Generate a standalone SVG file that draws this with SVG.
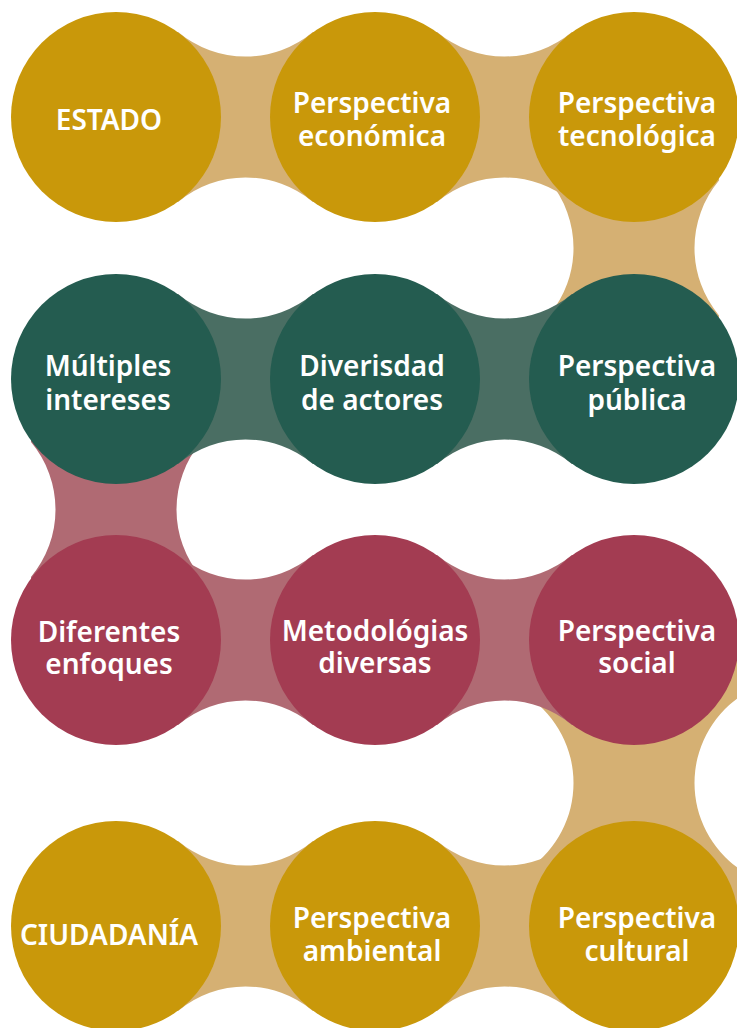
<svg xmlns="http://www.w3.org/2000/svg" width="737" height="1028" viewBox="0 0 737 1028">
<style>
.gold{fill:#C9980A}
.green{fill:#245C50}
.red{fill:#A33C52}
.ctan{fill:#D5B073}
.cgreen{fill:#4A6E63}
.cred{fill:#B06A73}
text{font-family:"Noto Sans","Open Sans","Liberation Sans",sans-serif;font-size:28px;font-weight:600;fill:#FFFFFF;text-anchor:middle}
</style>
<defs>
<path id="hc" d="M0,-85 H62.08 A105,105 0 0 0 196.92,-85 H259 V85 H196.92 A105,105 0 0 0 62.08,85 H0 Z"/>
</defs>
<g id="connectors">
<path class="ctan" d="M549,117 V180.58 A105,105 0 0 1 549,315.42 V379 H719 V315.42 A105,105 0 0 1 719,180.58 V117 Z"/>
<path class="cred" d="M31,379 V442.08 A105,105 0 0 1 31,576.92 V640 H201 V576.92 A105,105 0 0 1 201,442.08 V379 Z"/>
<path class="ctan" d="M529,640 V697.18 A105,105 0 0 1 529,868.82 V926 H739 V868.82 A105,105 0 0 1 739,697.18 V640 Z"/>
<use href="#hc" class="ctan" transform="translate(116,117)"/>
<use href="#hc" class="ctan" transform="translate(375,117)"/>
<use href="#hc" class="cgreen" transform="translate(116,379)"/>
<use href="#hc" class="cgreen" transform="translate(375,379)"/>
<use href="#hc" class="cred" transform="translate(116,640)"/>
<use href="#hc" class="cred" transform="translate(375,640)"/>
<use href="#hc" class="ctan" transform="translate(116,926)"/>
<use href="#hc" class="ctan" transform="translate(375,926)"/>
</g>
<g id="n-estado"><circle class="gold" cx="116" cy="117" r="105"/><text x="109" y="130">ESTADO</text></g>
<g id="n-economica"><circle class="gold" cx="375" cy="117" r="105"/><text x="372" y="113">Perspectiva</text><text x="372" y="146">económica</text></g>
<g id="n-tecnologica"><circle class="gold" cx="634" cy="117" r="105"/><text x="637" y="113">Perspectiva</text><text x="637" y="146">tecnológica</text></g>
<g id="n-multiples"><circle class="green" cx="116" cy="379" r="105"/><text x="108" y="376">Múltiples</text><text x="108" y="410">intereses</text></g>
<g id="n-diversidad"><circle class="green" cx="375" cy="379" r="105"/><text x="372" y="376">Diverisdad</text><text x="372" y="410">de actores</text></g>
<g id="n-publica"><circle class="green" cx="634" cy="379" r="105"/><text x="637" y="376">Perspectiva</text><text x="637" y="410">pública</text></g>
<g id="n-diferentes"><circle class="red" cx="116" cy="640" r="105"/><text x="109" y="642">Diferentes</text><text x="109" y="674">enfoques</text></g>
<g id="n-metodologias"><circle class="red" cx="375" cy="640" r="105"/><text x="375" y="641">Metodológias</text><text x="375" y="673">diversas</text></g>
<g id="n-social"><circle class="red" cx="634" cy="640" r="105"/><text x="637" y="641">Perspectiva</text><text x="637" y="673">social</text></g>
<g id="n-ciudadania"><circle class="gold" cx="116" cy="926" r="105"/><text x="109" y="945">CIUDADANÍA</text></g>
<g id="n-ambiental"><circle class="gold" cx="375" cy="926" r="105"/><text x="372" y="928">Perspectiva</text><text x="372" y="961">ambiental</text></g>
<g id="n-cultural"><circle class="gold" cx="634" cy="926" r="105"/><text x="637" y="928">Perspectiva</text><text x="637" y="961">cultural</text></g>
</svg>
